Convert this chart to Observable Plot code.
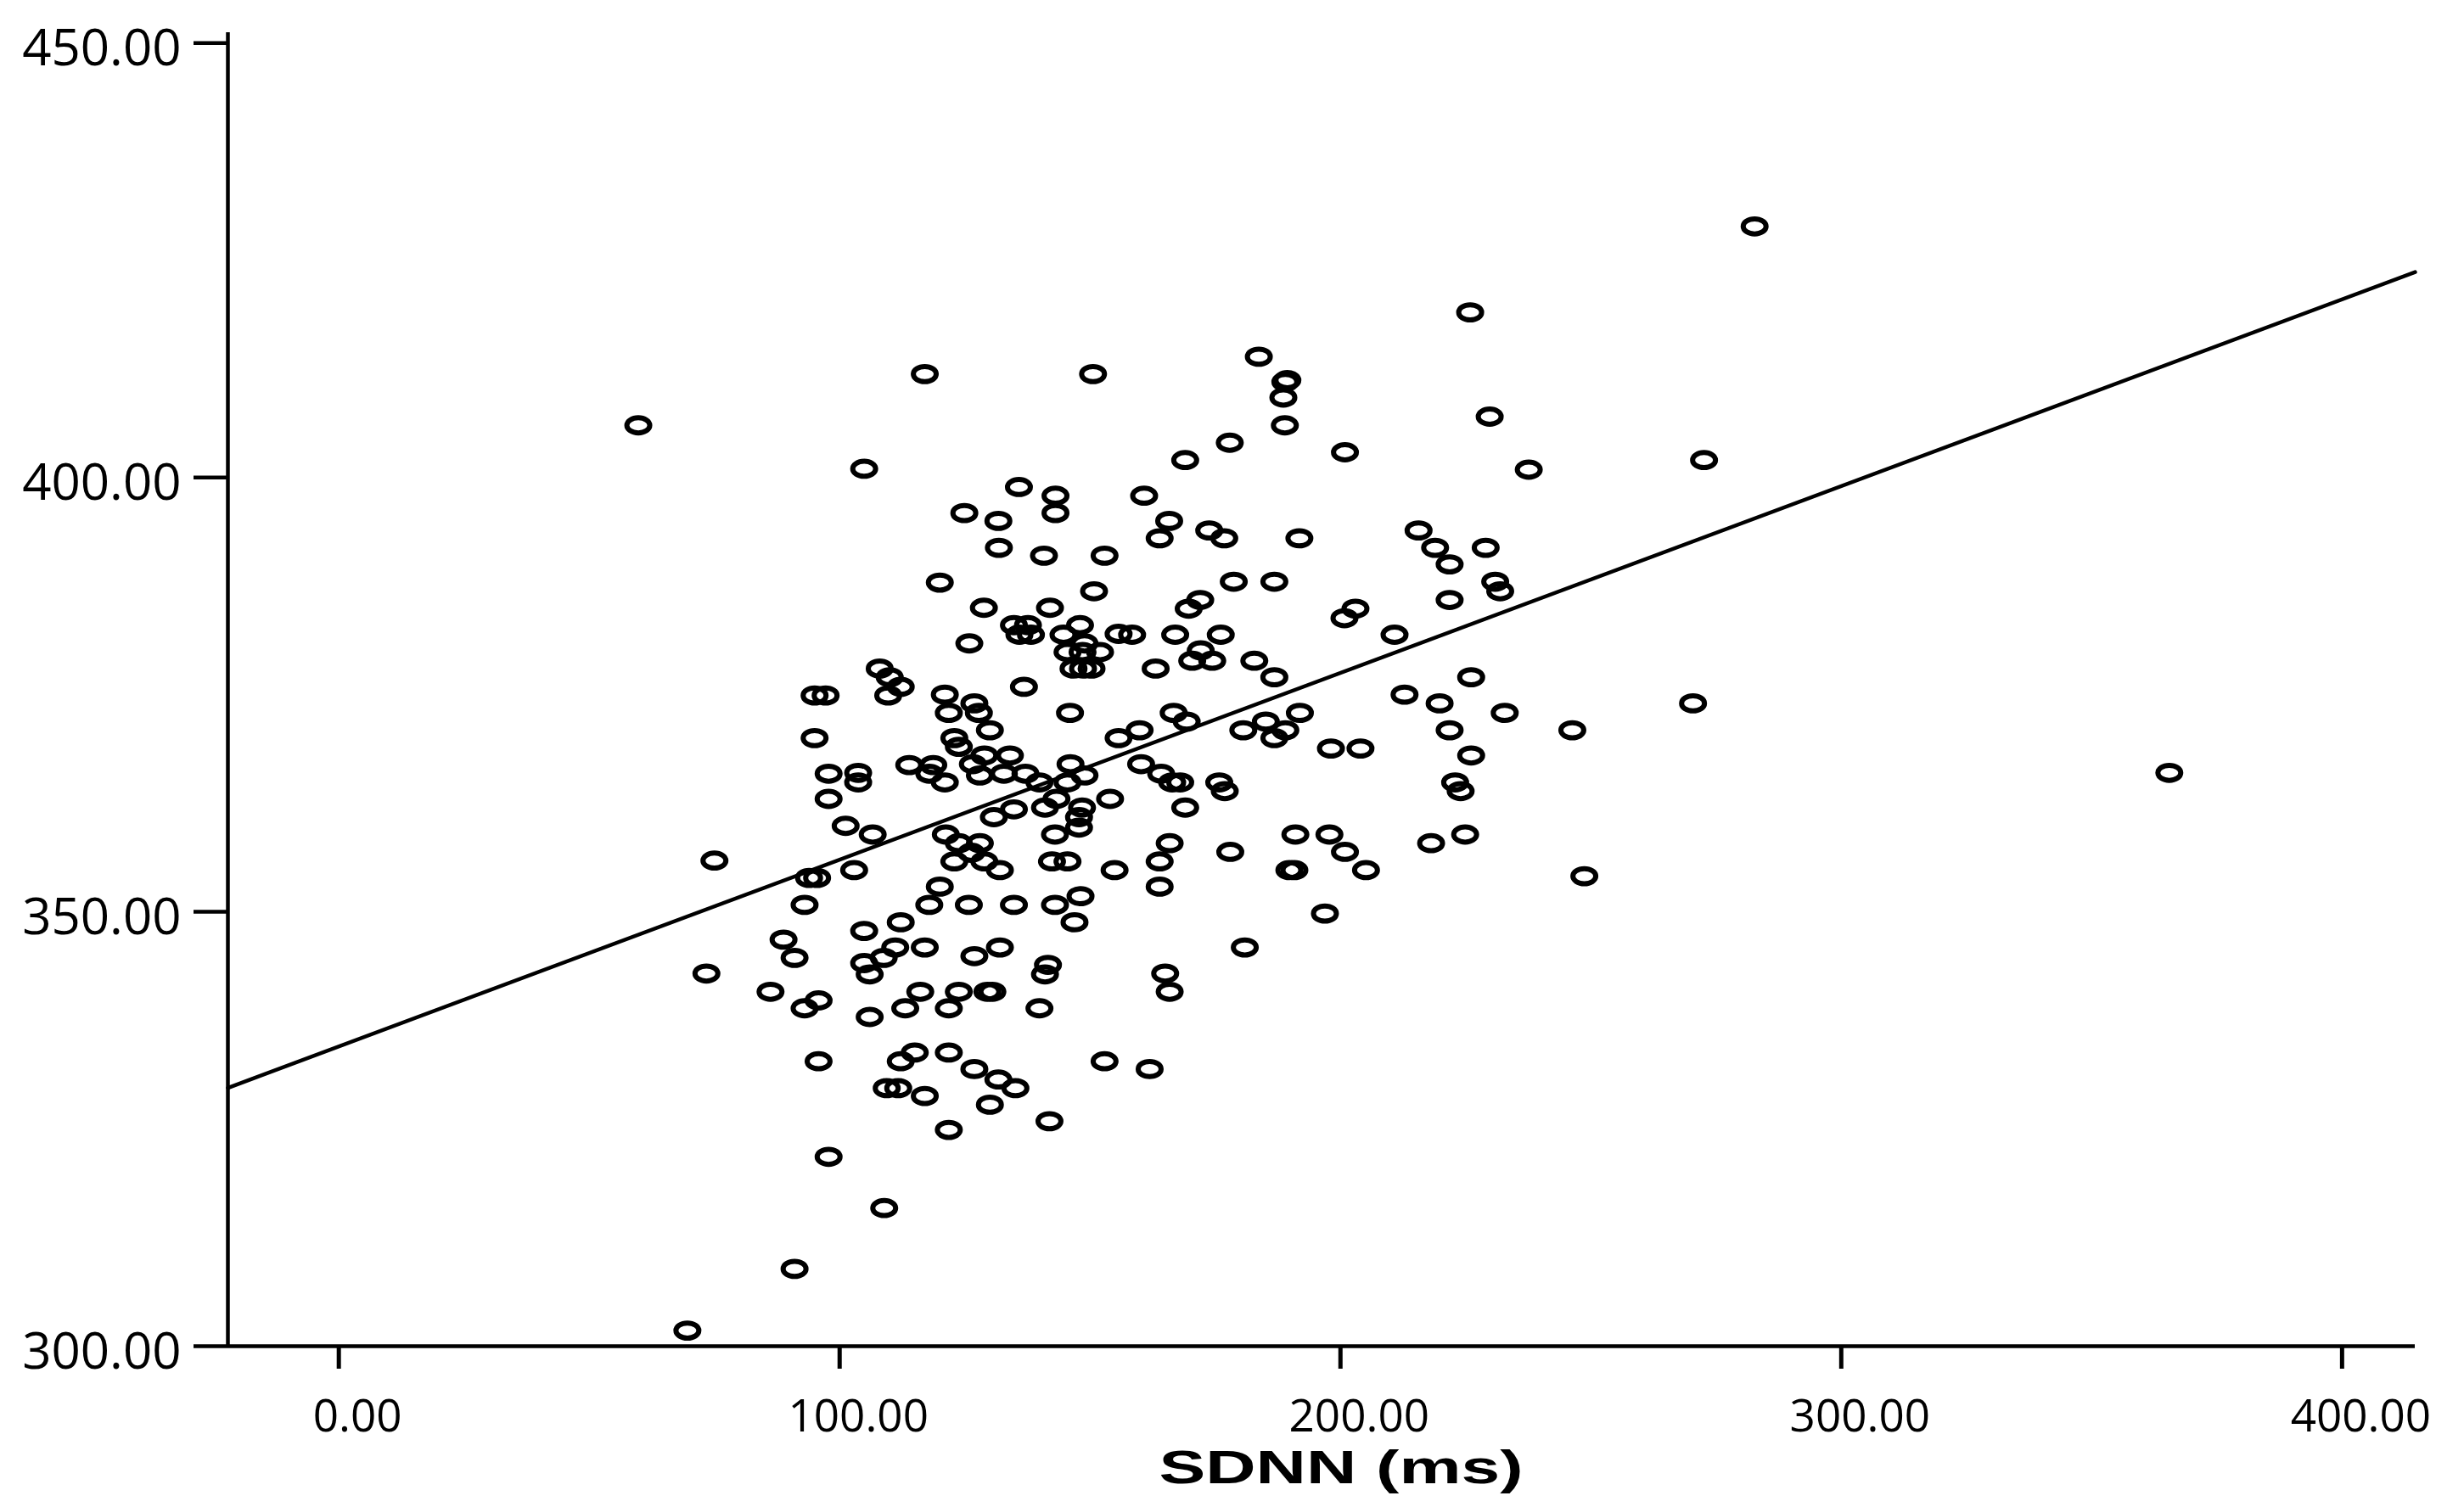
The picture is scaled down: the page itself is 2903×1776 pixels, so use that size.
<!DOCTYPE html>
<html>
<head>
<meta charset="utf-8">
<script src="https://cdn.jsdelivr.net/npm/d3@7"></script>
<script src="https://cdn.jsdelivr.net/npm/@observablehq/plot@0.6"></script>
<style>
  html, body { margin: 0; padding: 0; background: #fff; }
  #chart svg { display: block; }
</style>
</head>
<body>
<div id="chart"></div>
<script>
// ---- data ----
const sdnn = [
  282.7,225.9,183.7,117.0,150.6,189.0,189.4,188.6,188.9,59.8,
  229.8,272.6,177.9,200.9,169.0,104.9,237.6,135.8,143.1,160.8,
  124.9,143.1,131.7,165.8,173.8,176.8,163.9,191.8,215.6,218.9,
  229.0,131.8,140.8,152.9,221.8,120.0,150.8,178.7,186.8,230.9,
  231.9,221.8,128.8,142.0,169.7,172.0,203.0,200.8,134.8,137.6,
  138.2,135.9,148.0,144.7,148.9,145.5,148.5,152.0,146.7,148.6,
  150.3,155.7,158.4,125.9,136.8,146.0,155.7,108.0,110.0,112.2,
  109.7,95.0,97.2,121.0,121.8,126.9,127.8,130.0,95.0,122.9,
  123.8,128.9,134.0,113.9,118.7,117.9,121.0,126.6,128.0,132.8,
  137.1,139.9,146.1,145.5,148.9,97.8,103.7,103.7,97.8,154.0,
  143.3,167.0,176.1,210.8,172.1,170.4,174.4,163.1,182.8,186.8,
  226.1,212.8,219.8,232.8,221.8,226.1,222.9,224.0,166.7,169.3,
  159.9,191.9,180.6,185.1,189.0,186.8,198.1,204.0,160.2,164.2,
  166.4,168.0,175.8,176.9,169.0,101.2,106.6,93.9,95.5,102.9,
  121.2,123.8,128.0,126.3,122.9,128.9,132.0,130.8,134.8,141.0,
  148.4,147.8,147.8,143.0,142.4,145.5,154.9,120.0,93.0,117.9,
  125.8,134.8,143.0,148.1,146.9,104.9,112.2,88.8,91.0,111.1,
  108.8,104.9,106.0,117.0,126.9,132.0,141.6,141.0,86.2,95.8,
  93.0,106.0,113.1,116.1,121.8,123.8,129.5,130.5,139.9,95.8,
  112.2,115.0,121.8,152.9,126.9,131.7,135.1,109.4,111.7,117.0,
  130.0,141.9,121.8,97.8,165.9,163.9,163.9,178.0,191.0,197.8,
  200.9,189.8,190.8,205.1,218.1,224.9,196.9,180.9,165.0,165.9,
  161.9,75.0,73.4,108.9,91.0,69.6,270.4,246.3,248.7,365.5
];
const yValues = [
  428.9,419.0,413.9,411.9,411.9,411.0,411.2,409.2,406.0,406.0,
  407.0,402.0,404.0,402.9,402.0,401.0,400.9,398.9,397.9,397.9,
  395.9,395.9,395.0,395.0,393.9,393.0,393.0,393.0,393.9,391.9,
  391.9,391.9,391.0,391.0,390.0,387.9,386.9,388.0,388.0,388.0,
  386.9,385.9,385.0,385.0,384.9,385.9,384.9,383.8,383.0,383.0,
  381.9,381.9,383.0,381.9,380.9,379.9,379.9,379.9,378.0,378.0,
  378.0,382.0,381.9,380.9,375.9,372.9,370.0,378.0,377.0,375.9,
  374.9,374.9,374.9,375.0,372.9,374.0,372.9,370.9,370.0,370.0,
  369.0,368.0,368.0,366.9,366.9,365.9,364.9,367.0,365.7,365.9,
  365.9,364.9,367.0,364.9,365.7,365.9,366.0,364.9,363.0,363.0,
  363.0,381.9,381.9,381.9,380.1,378.9,378.9,378.0,378.9,377.0,
  377.0,375.0,374.0,372.9,370.9,368.0,364.9,363.9,372.9,371.9,
  370.9,372.9,370.9,371.9,370.9,370.0,368.8,368.8,367.0,365.9,
  364.9,364.9,364.9,363.9,362.0,359.9,358.9,353.9,353.9,354.8,
  358.9,357.9,357.9,356.8,355.8,355.8,354.8,360.9,361.8,362.0,
  362.0,360.9,359.7,358.9,355.8,355.8,354.8,352.9,350.8,350.8,
  350.8,350.8,350.8,351.8,348.8,347.8,348.8,346.8,344.7,345.9,
  344.7,344.1,342.8,345.9,344.9,345.9,343.9,342.8,340.8,339.8,
  338.9,337.9,338.9,340.8,338.9,340.8,340.8,340.8,338.9,332.8,
  332.8,333.8,333.8,332.8,331.9,330.7,329.7,329.7,329.7,328.8,
  327.8,325.9,324.9,321.8,357.9,355.8,352.9,356.9,358.9,358.9,
  356.9,354.8,354.8,354.8,357.9,358.9,349.8,345.9,342.9,340.8,
  331.9,355.9,342.9,315.9,308.9,301.8,374.0,370.9,354.1,366.0
];
const fitIntercept = 334.5;   // fitted line
const fitSlope = 0.215;
const xTicks = [0, 100, 200, 300, 400];
const yTicks = [300, 350, 400, 450];
const xTitle = "SDNN (ms)";
const xDomain = [-22.15, 414.6];
const yDomain = [300, 451.2];

// ---- build tables ----
const points = sdnn.map((x, i) => ({x, y: yValues[i]}));
const fitLine = xDomain.map(x => ({x, y: fitIntercept + fitSlope * x}));
const fmt = d3.format(".2f");

// elliptical hollow marker
const ellipse = {
  draw(context, size) {
    const r = Math.sqrt(size / Math.PI);
    const rx = r, ry = r * 0.66, k = 0.5523;
    context.moveTo(rx, 0);
    context.bezierCurveTo(rx, k * ry, k * rx, ry, 0, ry);
    context.bezierCurveTo(-k * rx, ry, -rx, k * ry, -rx, 0);
    context.bezierCurveTo(-rx, -k * ry, -k * rx, -ry, 0, -ry);
    context.bezierCurveTo(k * rx, -ry, rx, -k * ry, rx, 0);
    context.closePath();
  }
};

const W = 2903, H = 1776;
const chart = Plot.plot({
  width: W,
  height: H,
  marginLeft: 268,
  marginRight: 58,
  marginTop: 38,
  marginBottom: 190,
  style: {background: "#fff", fontFamily: "'Open Sans', sans-serif", color: "#000"},
  x: {domain: xDomain},
  y: {domain: yDomain},
  marks: [
    // tick marks
    Plot.axisY({ticks: yTicks, tickFormat: () => "", tickSize: 40, strokeWidth: 4.5, label: null}),
    Plot.axisX({ticks: xTicks, tickFormat: () => "", tickSize: 27, strokeWidth: 5, label: null}),
    // tick labels (offset like the reference)
    Plot.axisY({ticks: yTicks, tickFormat: fmt, tickSize: 0, tickPadding: 55,
      fontSize: 60, dy: 7, label: null}),
    Plot.axisX({ticks: xTicks, tickFormat: fmt, tickSize: 0, tickPadding: 63,
      fontSize: 53, dx: 22, label: null}),
    Plot.ruleY([yDomain[0]], {stroke: "#000", strokeWidth: 4.5}),
    Plot.ruleX([xDomain[0]], {stroke: "#000", strokeWidth: 4.5}),
    Plot.line(fitLine, {x: "x", y: "y", stroke: "#000", strokeWidth: 4.5}),
    Plot.dot(points, {x: "x", y: "y", symbol: ellipse, r: 13.5, stroke: "#000", strokeWidth: 6, fill: "none"})
  ]
});

d3.select(chart).append("text")
  .attr("x", 1580)
  .attr("y", 1748)
  .attr("text-anchor", "middle")
  .attr("font-family", "'Liberation Sans', Arial, sans-serif")
  .attr("font-weight", "bold")
  .attr("font-size", 56)
  .attr("fill", "#000")
  .attr("textLength", 429)
  .attr("lengthAdjust", "spacingAndGlyphs")
  .text(xTitle);

document.getElementById("chart").appendChild(chart);
</script>
</body>
</html>
